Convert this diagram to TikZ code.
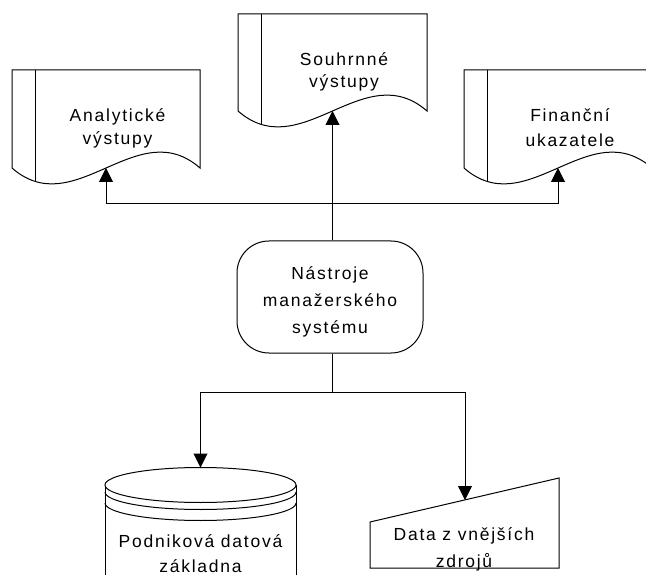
\documentclass[tikz,border=0pt]{standalone}
\usepackage{fontspec}
\newfontfamily\lblfont[LetterSpace=10]{Liberation Sans}
\usetikzlibrary{arrows.meta}

% Document symbol: name of the wave-midpoint coordinate, left x, right x, top y, bottom y
\newcommand\docpage[5]{%
  \pgfmathsetmacro\dw{#3-#2}%
  \draw[outline] (#2,#4) -- (#3,#4) -- (#3,#5)
     .. controls ({#3-\dw/3},{#5-55}) and ({#2+\dw/3},{#5+55}) .. (#2,#5) -- cycle;
  \draw[thinline] ({#2+23},#4) -- ({#2+23},{#5+13});
  \coordinate (#1) at ({(#2+#3)/2},#5);
}

\begin{document}
\begin{tikzpicture}[x=1pt,y=-1pt,
  outline/.style={draw=black, line width=1pt, fill=white},
  thinline/.style={draw=black, line width=1pt},
  flow/.style={draw=black, line width=1pt, -{Triangle[length=14pt,width=14pt]}},
  lbl/.style={font=\lblfont\fontsize{17.5}{#1}\selectfont, align=center, inner sep=0pt, anchor=base},
  lbl/.default=23]
\useasboundingbox (0,0) rectangle (646,575);
\clip (0,0) rectangle (646,575);

% output documents (labels anchored at the baseline of their last line)
\docpage{A-in}{12}{200}{70}{168}
\docpage{S-in}{238}{427}{14}{111}
\docpage{F-in}{464}{652}{70}{168}
\node[lbl=23] (A) at (117.5,145) {Analytické\\výstupy};
\node[lbl=22] (S) at (344,88) {Souhrnné\\výstupy};
\node[lbl=25] (F) at (570,147) {Finanční\\ukazatele};

% terminator
\node[outline, rounded corners=32pt, minimum width=186pt, minimum height=112pt] (T) at (330,297) {};
\node[lbl=27] (Tt) at (330,333) {Nástroje\\manažerského\\systému};

% database cylinder
\draw[outline] (105,600) -- (105,485) -- (296,485) -- (296,600);
\draw[outline] (200.5,485) ellipse [x radius=95.5, y radius=17.5];
\draw[thinline] (105,492) arc[start angle=180, end angle=0, x radius=95.5, y radius=17.5];
\draw[thinline] (105,503) arc[start angle=180, end angle=0, x radius=95.5, y radius=17.5];
\coordinate (C-in) at (200.5,467.5);
\node[lbl=25] (C) at (200.5,572) {Podniková datová\\základna};

% manual input
\draw[outline] (370,522) -- (559,478) -- (559,568) -- (370,568) -- cycle;
\coordinate (D-in) at (465,500);
\node[lbl=27] (D) at (464,567) {Data z vnějších\\zdrojů};

% connectors
\coordinate (J1) at (332.5,204);
\coordinate (J2) at (332.5,392);
\draw[flow] (T.north -| S-in) -- (S-in);
\draw[flow] (J1) -| (A-in);
\draw[flow] (J1) -| (F-in);
\draw[thinline] (T.south -| J2) -- (J2);
\draw[flow] (J2) -| (C-in);
\draw[flow] (J2) -| (D-in);
\end{tikzpicture}
\end{document}
